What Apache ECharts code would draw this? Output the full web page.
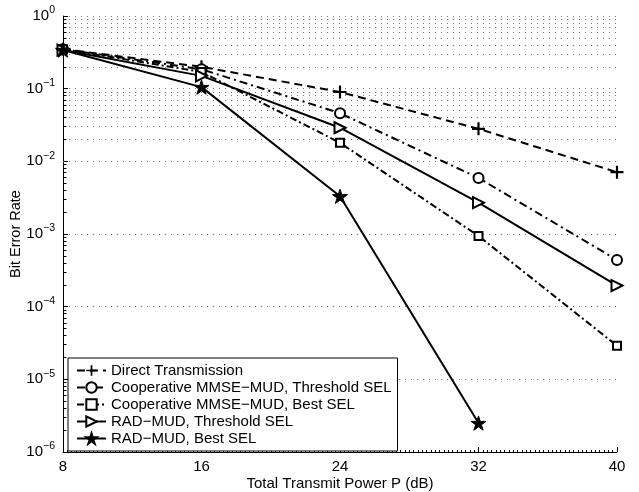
<!DOCTYPE html>
<html lang="en">
<head>
<meta charset="UTF-8">
<script src="https://cdn.jsdelivr.net/npm/echarts@6/dist/echarts.min.js"></script>
<style>
  html, body { margin: 0; padding: 0; background: #fff; }
  #chart { width: 639px; height: 492px; }
</style>
</head>
<body>
<div id="chart"></div>
<script>
  // transmit power (dB)
  var powers = [8, 16, 24, 32, 40];
  // bit error rates
  var directTx = [0.35, 0.2, 0.09, 0.028, 0.0071];
  var coopThreshold = [0.35, 0.185, 0.046, 0.0059, 0.00044];
  var coopBest = [0.35, 0.17, 0.018, 0.00094, 0.000029];
  var radThreshold = [0.34, 0.15, 0.029, 0.0027, 0.000195];
  var radBest = [0.34, 0.105, 0.0033, 0.0000025];
  var names = ['Direct Transmission', 'Cooperative MMSE\u2212MUD, Threshold SEL',
    'Cooperative MMSE\u2212MUD, Best SEL', 'RAD\u2212MUD, Threshold SEL', 'RAD\u2212MUD, Best SEL'];
  var yTicks = ['0', '\u22121', '\u22122', '\u22123', '\u22124', '\u22125', '\u22126'];

  var plusPath = 'path://M-1,-6L1,-6L1,-1L6,-1L6,1L1,1L1,6L-1,6L-1,1L-6,1L-6,-1L-1,-1Z';
  var starPath = 'path://M0,-100L22.45,-30.9L95.1,-30.9L36.3,11.8L58.8,80.9L0,38.2L-58.8,80.9L-36.3,11.8L-95.1,-30.9L-22.45,-30.9Z';

  function pairs(ys) {
    var out = [];
    for (var i = 0; i < ys.length; i++) out.push([powers[i], ys[i]]);
    return out;
  }

  // minor grid lines / minor ticks of the log axis (2..9 per decade)
  var minorGrid = [], minorTicks = [];
  for (var k = 1; k <= 6; k++) {
    for (var m = 2; m <= 9; m++) {
      var v = m * Math.pow(10, -k);
      minorGrid.push({ yAxis: v });
      minorTicks.push([{ coord: [8, v] }, { coord: [8.2, v] }]);
    }
  }

  var chart = echarts.init(document.getElementById('chart'));
  var font = 'Liberation Sans, Arial, sans-serif';

  function line(name, ys, symbol, size, dash, border, extra) {
    var s = {
      name: name,
      type: 'line',
      data: pairs(ys),
      symbol: symbol,
      symbolSize: size,
      symbolKeepAspect: true,
      showAllSymbol: true,
      lineStyle: { color: '#000', width: 2, type: dash },
      itemStyle: { color: '#000', borderColor: '#000', borderWidth: border },
      z: 5
    };
    for (var key in extra) s[key] = extra[key];
    return s;
  }

  var option = {
    animation: false,
    backgroundColor: '#fff',
    textStyle: { fontFamily: font },
    grid: { left: 63, right: 22, top: 16, bottom: 40, outerBoundsMode: 'none', containLabel: false },
    legend: {
      orient: 'vertical',
      left: 68,
      top: 358,
      padding: [5, 6, 5, 8],
      itemGap: 2,
      itemWidth: 29,
      itemHeight: 13,
      backgroundColor: '#fff',
      borderColor: '#000',
      borderWidth: 1,
      textStyle: { fontSize: 15, lineHeight: 14, color: '#000', fontFamily: font },
      data: names
    },
    xAxis: {
      type: 'value',
      min: 8,
      max: 40,
      interval: 8,
      axisLine: { show: true, lineStyle: { color: '#000', width: 1 } },
      axisTick: { inside: true, length: 5, lineStyle: { color: '#000' } },
      minorTick: { show: true, splitNumber: 32, length: 2, lineStyle: { color: '#000' } },
      axisLabel: { color: '#000', fontSize: 15, margin: 7 },
      splitLine: { show: false },
      name: 'Total Transmit Power P (dB)',
      nameLocation: 'middle',
      nameGap: 24,
      nameMoveOverlap: false,
      nameTextStyle: { color: '#000', fontSize: 15 }
    },
    yAxis: {
      type: 'log',
      logBase: 10,
      min: 1e-6,
      max: 1,
      axisLine: { show: true, lineStyle: { color: '#000', width: 1 } },
      axisTick: { inside: true, length: 5, lineStyle: { color: '#000' } },
      axisLabel: {
        color: '#000',
        margin: 8,
        formatter: function (val) {
          var e = Math.round(Math.log(val) / Math.LN10);
          return '{b|10}{s|' + yTicks[-e] + '}';
        },
        rich: {
          b: { fontSize: 15, color: '#000', fontFamily: font },
          s: { fontSize: 10.5, color: '#000', fontFamily: font, padding: [0, 0, 11, 0] }
        }
      },
      splitLine: { show: true, lineStyle: { color: '#777', type: [1, 5], width: 1 } },
      name: 'Bit Error Rate',
      nameLocation: 'middle',
      nameGap: 40,
      nameMoveOverlap: false,
      nameTextStyle: { color: '#000', fontSize: 14.5 }
    },
    series: [
      line(names[0], directTx, plusPath, 13, [8, 5], 0),
      line(names[1], coopThreshold, 'emptyCircle', 10, [8, 4, 2, 4], 2),
      line(names[2], coopBest, 'emptyRect', 8, [7, 3, 2, 3], 2),
      line(names[3], radThreshold, 'emptyTriangle', 11, 'solid', 2, { symbolRotate: -90 }),
      line(names[4], radBest, starPath, 15, 'solid', 1),
      {
        type: 'line',
        data: [],
        silent: true,
        z: 1,
        markLine: {
          silent: true,
          symbol: 'none',
          label: { show: false },
          animation: false,
          lineStyle: { color: '#777', type: [1, 5], width: 1 },
          data: minorGrid
        }
      },
      {
        type: 'line',
        data: [],
        silent: true,
        z: 2,
        markLine: {
          silent: true,
          symbol: 'none',
          label: { show: false },
          animation: false,
          lineStyle: { color: '#000', type: 'solid', width: 1 },
          data: minorTicks
        }
      }
    ]
  };
  chart.setOption(option);
</script>
</body>
</html>
